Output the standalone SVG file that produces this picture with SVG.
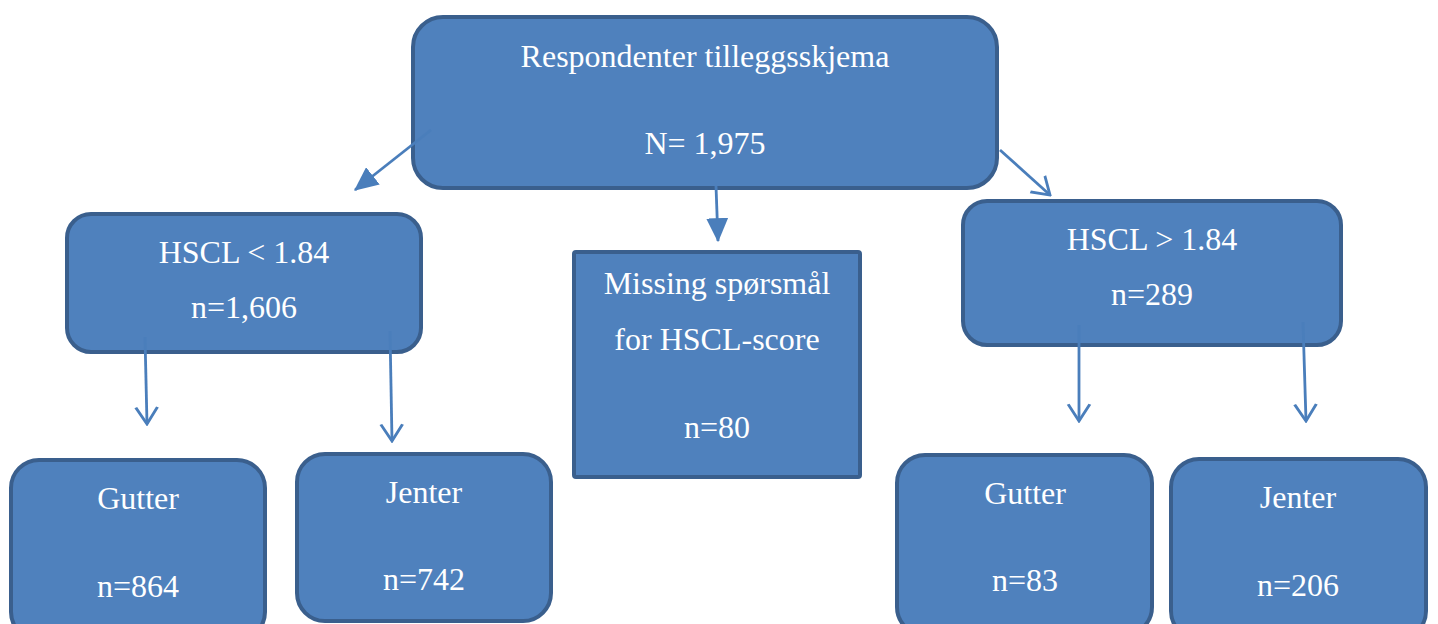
<svg xmlns="http://www.w3.org/2000/svg" width="1438" height="624" viewBox="0 0 1438 624">
<style>
.box{fill:#4F81BD;stroke:#3A5F8D;stroke-width:4}
.t{font-family:"Liberation Serif","Times New Roman",serif;font-size:32px;fill:#FFFFFF;text-anchor:middle}
.c{stroke:#4A7EBB;stroke-width:2.8;fill:none}
</style>
<defs>
<marker id="filled" viewBox="0 0 10 10" refX="9.5" refY="5" markerWidth="24" markerHeight="22" markerUnits="userSpaceOnUse" orient="auto" preserveAspectRatio="none">
<path d="M0,0 L10,5 L0,10 z" fill="#4A7EBB"/>
</marker>
<marker id="open" viewBox="0 0 12 12" refX="11" refY="6" markerWidth="20" markerHeight="26" markerUnits="userSpaceOnUse" orient="auto" preserveAspectRatio="none">
<path d="M1,1 L11,6 L1,11" fill="none" stroke="#4A7EBB" stroke-width="1.4"/>
</marker>
</defs>
<g id="n-top"><rect class="box" x="413" y="17" width="584" height="171" rx="30"/>
<text class="t" x="705" y="67">Respondenter tilleggsskjema</text>
<text class="t" x="705" y="154">N= 1,975</text></g>
<g id="n-low"><rect class="box" x="67" y="214" width="354" height="138" rx="24"/>
<text class="t" x="244" y="263">HSCL &lt; 1.84</text>
<text class="t" x="244" y="318">n=1,606</text></g>
<g id="n-missing"><rect class="box" x="574" y="252" width="286" height="225" rx="2"/>
<text class="t" x="717" y="294">Missing spørsmål</text>
<text class="t" x="717" y="350">for HSCL-score</text>
<text class="t" x="717" y="438">n=80</text></g>
<g id="n-high"><rect class="box" x="963" y="201" width="378" height="144" rx="24"/>
<text class="t" x="1152" y="250">HSCL &gt; 1.84</text>
<text class="t" x="1152" y="305">n=289</text></g>
<g id="n-gutter1"><rect class="box" x="11" y="460" width="254" height="180" rx="28"/>
<text class="t" x="138" y="509">Gutter</text>
<text class="t" x="138" y="597">n=864</text></g>
<g id="n-jenter1"><rect class="box" x="297" y="454" width="254" height="167" rx="28"/>
<text class="t" x="424" y="503">Jenter</text>
<text class="t" x="424" y="590">n=742</text></g>
<g id="n-gutter2"><rect class="box" x="897" y="455" width="255" height="180" rx="28"/>
<text class="t" x="1025" y="504">Gutter</text>
<text class="t" x="1025" y="591">n=83</text></g>
<g id="n-jenter2"><rect class="box" x="1171" y="459" width="255" height="180" rx="28"/>
<text class="t" x="1298" y="508">Jenter</text>
<text class="t" x="1298" y="596">n=206</text></g>
<g id="connectors">
<line class="c" x1="431" y1="130" x2="355" y2="190" marker-end="url(#filled)"/>
<line class="c" x1="1000" y1="150" x2="1050" y2="195" marker-end="url(#open)"/>
<line class="c" x1="716" y1="186" x2="718" y2="241" marker-end="url(#filled)"/>
<line class="c" x1="145" y1="337" x2="147" y2="424" marker-end="url(#open)"/>
<line class="c" x1="390" y1="331" x2="392" y2="441" marker-end="url(#open)"/>
<line class="c" x1="1079" y1="325" x2="1079" y2="421" marker-end="url(#open)"/>
<line class="c" x1="1303" y1="322" x2="1306" y2="421" marker-end="url(#open)"/>
</g>
</svg>
